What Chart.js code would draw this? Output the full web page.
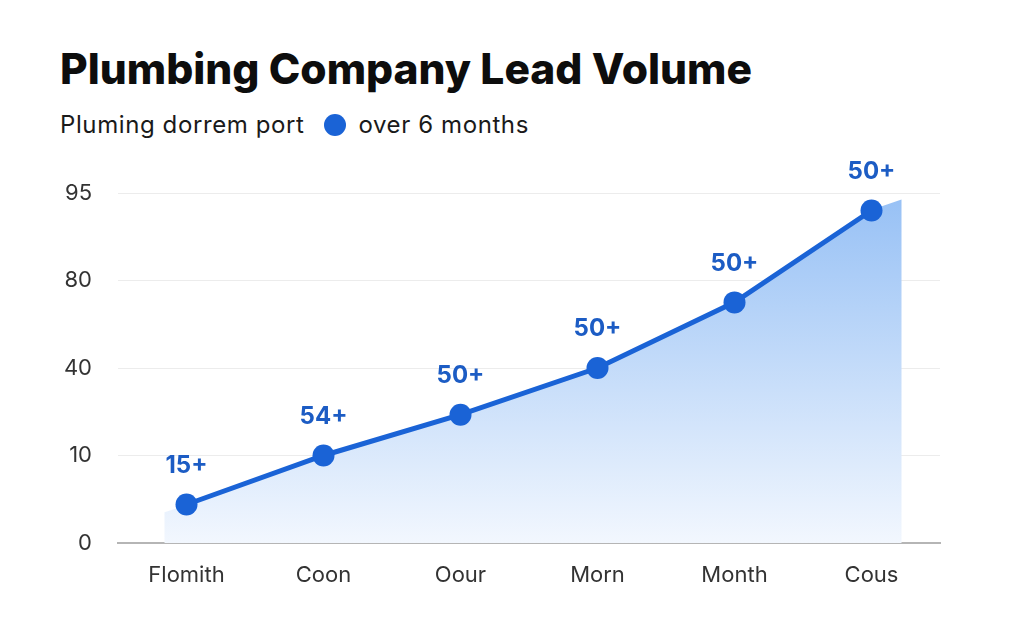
<!DOCTYPE html>
<html>
<head>
<meta charset="utf-8">
<script src="https://cdn.jsdelivr.net/npm/chart.js@4/dist/chart.umd.min.js"></script>
<style>
  body { margin: 0; background: #ffffff; width: 1024px; height: 640px; overflow: hidden; font-family: Inter, "Noto Sans", sans-serif; }
  #title { position: absolute; left: 60px; top: 43px; font-size: 42.5px; font-weight: 800; color: #0d0d0d; }
  #sub { position: absolute; left: 60px; top: 110px; font-size: 24px; letter-spacing: 0.6px; color: #1a1a1a; display: flex; align-items: center; }
  #sub .dot { display: inline-block; width: 22px; height: 22px; border-radius: 50%; background: #1a63d6; margin: 0 12px 0 20px; }
  #wrap { position: absolute; left: 0; top: 150px; width: 1024px; height: 450px; }
</style>
</head>
<body>
<div id="title">Plumbing Company Lead Volume</div>
<div id="sub">Pluming dorrem port<span class="dot"></span>over 6 months</div>
<div id="wrap"><canvas id="grafico"></canvas></div>
<script>
var meses = ["Flomith", "Coon", "Oour", "Morn", "Month", "Cous"];
var leads = [4.4, 10, 24, 40, 70, 92];
var rotulos = ["15+", "54+", "50+", "50+", "50+", "50+"];
var ticksY = [0, 10, 40, 80, 95];

// eixo com marcas igualmente espacadas (0, 10, 40, 80, 95)
class StepScale extends Chart.LinearScale {
  static id = "step";
  buildTicks() {
    return ticksY.map(function (v) { return { value: v }; });
  }
  getPixelForValue(value) {
    if (value === null || value === undefined) return NaN;
    var n = ticksY.length - 1;
    var pos = 0;
    for (var i = 0; i < n; i++) {
      if (value <= ticksY[i + 1] || i === n - 1) {
        pos = i + (value - ticksY[i]) / (ticksY[i + 1] - ticksY[i]);
        break;
      }
    }
    return this.getPixelForDecimal(pos / n);
  }
  getValueForPixel(pixel) {
    var n = ticksY.length - 1;
    var pos = this.getDecimalForPixel(pixel) * n;
    var i = Math.min(Math.max(Math.floor(pos), 0), n - 1);
    return ticksY[i] + (pos - i) * (ticksY[i + 1] - ticksY[i]);
  }
}
Chart.register(StepScale);

function gradiente(chart) {
  var area = chart.chartArea;
  var g = chart.ctx.createLinearGradient(0, area.top, 0, area.bottom);
  g.addColorStop(0, "rgb(150,192,245)");
  g.addColorStop(1, "rgb(242,247,254)");
  return g;
}

// area sombreada passa um pouco das pontas da linha
var pontasPlugin = {
  id: "pontas",
  beforeDatasetsDraw: function (chart) {
    var ctx = chart.ctx;
    var pts = chart.getDatasetMeta(0).data;
    var base = chart.scales.y.getBasePixel();
    var a = pts[0], b = pts[1];
    var c = pts[pts.length - 2], d = pts[pts.length - 1];
    var ext = 22;
    var yl = a.y - (b.y - a.y) / (b.x - a.x) * ext;
    var yr = d.y + ((d.y - c.y) / (d.x - c.x)) * 0.55 * (ext + 8);
    ctx.save();
    ctx.fillStyle = gradiente(chart);
    ctx.beginPath();
    ctx.moveTo(a.x - ext, base);
    ctx.lineTo(a.x - ext, yl);
    ctx.lineTo(a.x + 2, a.y);
    ctx.lineTo(a.x + 2, base);
    ctx.closePath();
    ctx.fill();
    ctx.beginPath();
    ctx.moveTo(d.x - 2, base);
    ctx.lineTo(d.x - 2, d.y);
    ctx.lineTo(d.x + ext + 8, yr);
    ctx.lineTo(d.x + ext + 8, base);
    ctx.closePath();
    ctx.fill();
    ctx.restore();
  }
};

var rotulosPlugin = {
  id: "rotulos",
  afterDatasetsDraw: function (chart) {
    var ctx = chart.ctx;
    var meta = chart.getDatasetMeta(0);
    ctx.save();
    ctx.font = "700 24px Inter, 'Noto Sans', sans-serif";
    ctx.fillStyle = "#1c5cc4";
    ctx.textAlign = "center";
    ctx.textBaseline = "middle";
    meta.data.forEach(function (pt, i) {
      ctx.fillText(rotulos[i], pt.x, pt.y - 39);
    });
    ctx.restore();
  }
};

var ctx = document.getElementById("grafico").getContext("2d");
var myChart = new Chart(ctx, {
  type: "line",
  data: {
    labels: meses,
    datasets: [
      {
        data: leads,
        borderColor: "#1a63d6",
        borderWidth: 5,
        pointRadius: 11,
        pointBackgroundColor: "#1a63d6",
        pointBorderWidth: 0,
        tension: 0,
        fill: "origin",
        backgroundColor: function (c) {
          if (!c.chart.chartArea) return "rgb(200,220,250)";
          return gradiente(c.chart);
        },
      },
    ],
  },
  options: {
    responsive: true,
    maintainAspectRatio: false,
    animation: false,
    layout: { padding: { top: 43, right: 84, left: 0, bottom: 0 } },
    plugins: { legend: { display: false }, tooltip: { enabled: false } },
    scales: {
      x: {
        offset: true,
        grid: { display: false, drawTicks: false },
        border: { color: "#b5b5b5", width: 2 },
        ticks: { color: "#333333", padding: 19, font: { family: "Inter, 'Noto Sans', sans-serif", size: 22 } },
        afterFit: function (s) { s.height = 57; },
      },
      y: {
        type: "step",
        min: 0,
        max: 95,
        grid: { color: "#ececec", lineWidth: 1, drawTicks: false },
        border: { display: false },
        ticks: {
          color: "#333333",
          padding: 26,
          font: { family: "Inter, 'Noto Sans', sans-serif", size: 22 },
          callback: function (v) { return String(v); },
        },
        afterFit: function (s) { s.width = 118; },
      },
    },
  },
  plugins: [pontasPlugin, rotulosPlugin],
});
</script>
</body>
</html>
